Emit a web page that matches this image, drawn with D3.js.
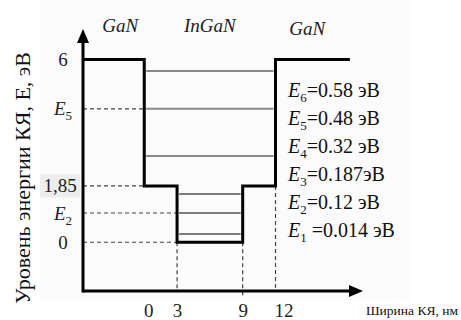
<!DOCTYPE html>
<html>
<head>
<meta charset="utf-8">
<script src="https://cdn.jsdelivr.net/npm/d3@7"></script>
<style>
  body { margin: 0; background: #fff; }
  svg { display: block; font-family: "Liberation Serif", "Times New Roman", serif; }
  text { white-space: pre; }
</style>
</head>
<body>
<svg id="chart"></svg>
<script>
// ---- data ----
// band profile: edges along the width axis (nm) and the band energy between them (eV)
const stepEdges = [-5.6, 0, 3, 9, 12, 18.8];
const stepEnergy = [6, 1.85, 0, 1.85, 6];

// regions over the profile
const regionNames = ["GaN", "InGaN", "GaN"];
const regionLabelX = [-2.2, 6, 14.9];

// quantum levels (schematic heights on the energy axis) and their values
const levelNames = ["1", "2", "3", "4", "5", "6"];
const levelDraw = [0.27, 0.96, 1.58, 2.83, 4.38, 5.62];
const levelLabels = [" =0.014 эВ", "=0.12 эВ", "=0.187эВ", "=0.32 эВ", "=0.48 эВ", "=0.58 эВ"];

// axis ticks
const xTicks = [0, 3, 9, 12];
const yTicks = [6, 4.38, 1.85, 0.96, 0];
const yTickLabels = ["6", "E5", "1,85", "E2", "0"];

// ---- chart ----
const width = 461, height = 320;
const svg = d3.select("#chart").attr("width", width).attr("height", height);

const x = d3.scaleLinear().domain([-5.6, 20]).range([83, 363]);
const y = d3.scaleLinear().domain([-1.6, 7]).range([291, 29]);

// faint canvas behind the drawing
svg.append("rect").attr("x", 40).attr("y", 0).attr("width", 370).attr("height", 300)
  .attr("fill", "#fbfbfb");

// well profile as points for a step curve
const profile = stepEnergy.map((e, i) => ({ w: stepEdges[i], e: e }));
profile.push({ w: stepEdges[stepEdges.length - 1], e: stepEnergy[stepEnergy.length - 1] });

// find the walls of the well at a given energy
const wellSpan = (e) => {
  let lo = null, hi = null;
  stepEnergy.forEach((s, i) => {
    if (s < e) {
      if (lo === null) lo = stepEdges[i];
      hi = stepEdges[i + 1];
    }
  });
  return [lo, hi];
};

// highlight box behind 1,85
svg.append("rect").attr("x", 40).attr("y", y(1.85) - 11.5)
  .attr("width", 40).attr("height", 23).attr("fill", "#eeeeee");

// dashed guides to the y axis
const dash = svg.append("g").attr("stroke", "#444").attr("stroke-width", 1.2)
  .attr("stroke-dasharray", "4,3");

[levelDraw[4], 1.85, levelDraw[1], 0].forEach((e) => {
  const span = wellSpan(e + 0.001);
  dash.append("line")
    .attr("x1", x(-5.6)).attr("x2", x(span[0]))
    .attr("y1", y(e)).attr("y2", y(e));
});

// dashed drops from the well corners to the x axis
[3, 9, 12].forEach((w) => {
  const i = stepEdges.indexOf(w);
  const e = Math.min(stepEnergy[i - 1], stepEnergy[i]);
  dash.append("line")
    .attr("x1", x(w)).attr("x2", x(w))
    .attr("y1", y(e)).attr("y2", w === 9 ? y(-1.6) + 6 : y(-1.6));
});

// level lines inside the well
svg.append("g").selectAll("line")
  .data(levelDraw)
  .join("line")
  .attr("x1", (d) => x(wellSpan(d)[0]) + 2)
  .attr("x2", (d) => x(wellSpan(d)[1]) - 2)
  .attr("y1", (d) => y(d))
  .attr("y2", (d) => y(d))
  .attr("stroke", (d) => (d > 1.85 ? "#888" : "#555"))
  .attr("stroke-width", (d) => (d > 1.85 ? 2 : 1.5));

// band profile
const line = d3.line().curve(d3.curveStepAfter)
  .x((d) => x(d.w)).y((d) => y(d.e));

svg.append("path")
  .datum(profile)
  .attr("d", line)
  .attr("fill", "none")
  .attr("stroke", "#000")
  .attr("stroke-width", 3)
  .attr("stroke-linejoin", "miter");

// axes with arrows
const x0 = x.range()[0], y0 = y.range()[0];
const xEnd = x.range()[1], yEnd = y.range()[1];

svg.append("line").attr("x1", x0).attr("y1", y0).attr("x2", xEnd - 12).attr("y2", y0)
  .attr("stroke", "#000").attr("stroke-width", 3);
svg.append("line").attr("x1", x0).attr("y1", y0 + 1.5).attr("x2", x0).attr("y2", yEnd + 12)
  .attr("stroke", "#000").attr("stroke-width", 3);

svg.append("path")
  .attr("d", `M${xEnd},${y0} L${xEnd - 14},${y0 - 6} L${xEnd - 14},${y0 + 6} Z`)
  .attr("fill", "#000");
svg.append("path")
  .attr("d", `M${x0},${yEnd} L${x0 - 6},${yEnd + 14} L${x0 + 6},${yEnd + 14} Z`)
  .attr("fill", "#000");

// x ticks
const xAxis = svg.append("g")
  .attr("transform", `translate(0,${y0})`)
  .call(d3.axisBottom(x).tickValues(xTicks).tickSize(0).tickPadding(13));
xAxis.select(".domain").remove();
xAxis.selectAll("text")
  .attr("font-family", "Liberation Serif")
  .attr("font-size", 19)
  .attr("fill", "#222")
  .attr("dx", (d) => (d === 0 ? 4 : d === 12 ? 8 : 0));

// y ticks
const yAxis = svg.append("g")
  .attr("transform", `translate(${x0},0)`)
  .call(d3.axisLeft(y).tickValues(yTicks).tickSize(0).tickPadding(21));
yAxis.select(".domain").remove();
yAxis.selectAll("text")
  .attr("font-family", "Liberation Serif")
  .attr("font-size", 19)
  .attr("fill", "#222")
  .attr("text-anchor", "middle")
  .attr("x", (d) => (d === 1.85 ? -23 : -20))
  .each(function (d, i) {
    const lab = yTickLabels[i];
    const t = d3.select(this).text(null);
    if (lab[0] === "E") {
      t.append("tspan").attr("font-style", "italic").text("E");
      t.append("tspan").attr("font-size", 13).attr("dy", 5).text(lab.slice(1));
    } else {
      t.text(lab);
    }
  });

// region names
svg.append("g").selectAll("text")
  .data(regionNames)
  .join("text")
  .attr("x", (d, i) => x(regionLabelX[i]))
  .attr("y", (d, i) => (i === 2 ? 35 : 32))
  .attr("text-anchor", "middle")
  .attr("font-style", "italic")
  .attr("font-size", 19)
  .attr("fill", "#222")
  .text((d) => d);

// level values list
const rows = svg.append("g").selectAll("text")
  .data(d3.range(levelNames.length).reverse())
  .join("text")
  .attr("x", 288)
  .attr("y", (d, i) => 97 + i * 28)
  .attr("font-size", 20)
  .attr("fill", "#111");

rows.append("tspan").attr("font-style", "italic").text("E");
rows.append("tspan").attr("font-size", 13).attr("dy", 5).text((d) => levelNames[d]);
rows.append("tspan").attr("dy", -5).text((d) => levelLabels[d]);

// axis titles
svg.append("text")
  .attr("transform", `translate(30,${178}) rotate(-90)`)
  .attr("text-anchor", "middle")
  .attr("font-size", 22)
  .attr("fill", "#111")
  .text("Уровень энергии КЯ, Е, эВ");

svg.append("text")
  .attr("x", 366)
  .attr("y", 315)
  .attr("font-size", 13.5)
  .attr("fill", "#111")
  .text("Ширина КЯ, нм");
</script>
</body>
</html>
